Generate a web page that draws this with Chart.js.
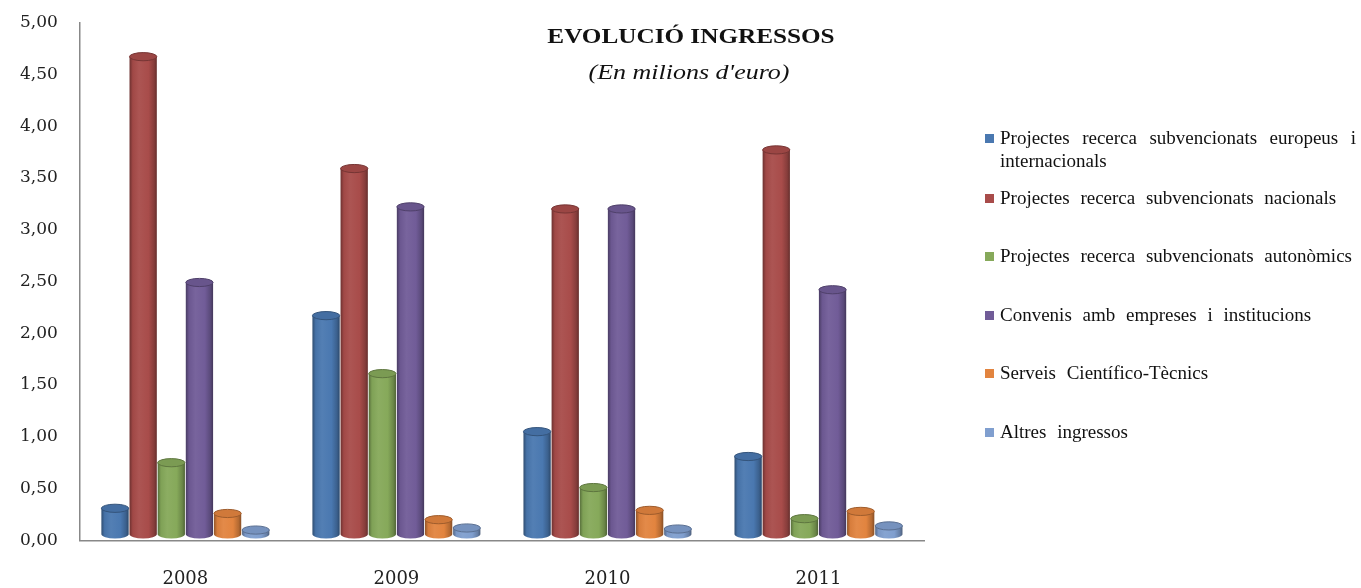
<!DOCTYPE html>
<html><head><meta charset="utf-8">
<script src="https://cdn.jsdelivr.net/npm/chart.js@4"></script>
<style>
html,body{margin:0;padding:0;background:#fff;}
#wrap{position:relative;width:1361px;height:588px;}
#c{position:absolute;left:0;top:0;}
.t{position:absolute;font-family:"Liberation Serif",serif;color:#111;white-space:nowrap;}
#legend{position:absolute;left:985px;top:126px;width:375px;font-family:"Liberation Serif",serif;font-size:19px;color:#111;}
.li{position:absolute;left:0;width:375px;line-height:23px;}
.sw{position:absolute;left:0;top:8px;width:9px;height:9px;}
.lt{margin-left:15px;width:356px;word-spacing:6px;text-align:justify;}
</style></head>
<body><div id="wrap"><canvas id="c" width="1361" height="588"></canvas>
<div class="t" style="left:691px;top:24px;font-size:21px;font-weight:bold;transform:translateX(-50%) scaleX(1.2);">EVOLUCIÓ INGRESSOS</div>
<div class="t" style="left:689px;top:61px;font-size:20px;font-style:italic;transform:translateX(-50%) scaleX(1.3);">(En milions d'euro)</div>
<div id="legend"></div>
</div>
<script>
const categories = ['2008','2009','2010','2011'];
const seriesNames = [
 'Projectes recerca subvencionats europeus i internacionals',
 'Projectes recerca subvencionats nacionals',
 'Projectes recerca subvencionats autonòmics',
 'Convenis amb empreses i institucions',
 'Serveis Científico-Tècnics',
 'Altres ingressos'
];
const europeus    = [0.31, 2.17, 1.05, 0.81];
const nacionals   = [4.67, 3.59, 3.20, 3.77];
const autonomics  = [0.75, 1.61, 0.51, 0.21];
const convenis    = [2.49, 3.22, 3.20, 2.42];
const serveis     = [0.26, 0.20, 0.29, 0.28];
const altres      = [0.10, 0.12, 0.11, 0.14];
const colors = ['#4A78B0','#A84C4A','#86A95A','#715C98','#E2843F','#809FCF'];
const legendTops = [0, 60, 118, 177, 235, 294];

const allSeries = [europeus, nacionals, autonomics, convenis, serveis, altres];

function shade(hex, f){
  const n=parseInt(hex.slice(1),16);let r=n>>16,g=(n>>8)&255,b=n&255;
  if(f<0){r=Math.round(r*(1+f));g=Math.round(g*(1+f));b=Math.round(b*(1+f));}
  else{r=Math.round(r+(255-r)*f);g=Math.round(g+(255-g)*f);b=Math.round(b+(255-b)*f);}
  return `rgb(${r},${g},${b})`;
}
function grad(ctx, el, c){
  const x0=el.x-el.width/2, x1=el.x+el.width/2;
  const g=ctx.createLinearGradient(x0,0,x1,0);
  g.addColorStop(0,shade(c,-0.35));
  g.addColorStop(0.12,shade(c,-0.05));
  g.addColorStop(0.35,shade(c,0.05));
  g.addColorStop(0.7,c);
  g.addColorStop(0.9,shade(c,-0.2));
  g.addColorStop(1,shade(c,-0.4));
  return g;
}

const cylPlugin = {
  id:'cyl',
  afterDatasetsDraw(chart){
    const ctx=chart.ctx;
    chart.data.datasets.forEach((ds,di)=>{
      const meta=chart.getDatasetMeta(di);
      meta.data.forEach(el=>{
        const c=colors[di];
        const rx=el.width/2, ry=Math.max(3,el.width*0.15);
        const x0=el.x-rx, top=el.y, bot=el.base-ry-2;
        ctx.save();
        ctx.fillStyle=grad(ctx,el,c);
        ctx.beginPath();
        ctx.moveTo(x0,top);ctx.lineTo(x0,bot);
        ctx.ellipse(el.x,bot,rx,ry,0,Math.PI,0,true);
        ctx.lineTo(x0+el.width,top);ctx.closePath();ctx.fill();
        ctx.fillStyle=shade(c,-0.08);
        ctx.strokeStyle=shade(c,-0.3);
        ctx.lineWidth=1;
        ctx.beginPath();ctx.ellipse(el.x,top,rx,ry,0,0,Math.PI*2);ctx.fill();ctx.stroke();
        ctx.restore();
      });
    });
  }
};

new Chart(document.getElementById('c'),{
  type:'bar',
  data:{labels:categories,datasets:allSeries.map((d,i)=>({label:seriesNames[i],data:d,backgroundColor:'rgba(0,0,0,0)',borderWidth:0}))},
  options:{
    responsive:false,animation:false,
    layout:{padding:{left:6,right:437,top:11,bottom:-30}},
    plugins:{legend:{display:false},tooltip:{enabled:false}},
    datasets:{bar:{categoryPercentage:0.8,barPercentage:0.97}},
    scales:{
      y:{min:0,max:5,
        ticks:{stepSize:0.5,color:'#222',font:{family:'"DejaVu Serif", serif',size:17,lineHeight:1},padding:14,
          callback:v=>Number(v).toFixed(2).replace('.',',')},
        grid:{display:false,drawTicks:true,tickLength:8,color:'#888'},
        border:{display:true,color:'#888',width:1.5}},
      x:{ticks:{color:'#222',font:{family:'"DejaVu Serif", serif',size:18},padding:28},
        grid:{display:false,drawTicks:false,tickLength:0},border:{display:true,color:'#888',width:1.5}}
    }
  },
  plugins:[cylPlugin]
});

const lg=document.getElementById('legend');
seriesNames.forEach((n,i)=>{
  const d=document.createElement('div');d.className='li';d.style.top=legendTops[i]+'px';
  d.innerHTML=`<span class="sw" style="background:${colors[i]}"></span><div class="lt"></div>`;
  d.querySelector('.lt').textContent=n;
  lg.appendChild(d);
});
</script></body></html>
